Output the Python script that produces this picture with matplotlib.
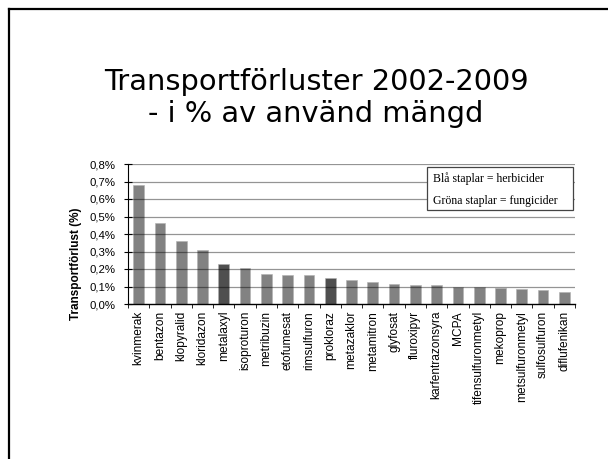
import matplotlib
matplotlib.use("Agg")
import matplotlib.pyplot as plt
from matplotlib.lines import Line2D
from matplotlib.patches import Rectangle
from matplotlib.ticker import FixedLocator, FuncFormatter

categories = ["kvinmerak", "bentazon", "klopyralid", "kloridazon", "metalaxyl",
              "isoproturon", "metribuzin", "etofumesat", "rimsulfuron", "prokloraz",
              "metazaklor", "metamitron", "glyfosat", "fluroxipyr", "karfentrazonsyra",
              "MCPA", "tifensulfuronmetyl", "mekoprop", "metsulfuronmetyl",
              "sulfosulfuron", "diflufenikan"]
values = [0.68, 0.465, 0.36, 0.31, 0.23, 0.205, 0.172, 0.165, 0.165, 0.15,
          0.135, 0.128, 0.115, 0.108, 0.108, 0.095, 0.095, 0.093, 0.085,
          0.078, 0.07]
fungicides = ["metalaxyl", "prokloraz"]
yticks = [0.0, 0.1, 0.2, 0.3, 0.4, 0.5, 0.6, 0.7, 0.8]
title_lines = ["Transportförluster 2002-2009", "- i % av använd mängd"]
ylabel = "Transportförlust (%)"
legend_lines = ["Blå staplar = herbicider", "Gröna staplar = fungicider"]

W, H = 608, 459
fig = plt.figure(figsize=(W / 100, H / 100), dpi=100)
fig.patch.set_facecolor("white")

# slide frame
fig.add_artist(Line2D([9 / W, 9 / W], [0, 1 - 9 / H], color="black", lw=1.6,
                      transform=fig.transFigure))
fig.add_artist(Line2D([9 / W, 1], [1 - 9 / H, 1 - 9 / H], color="black", lw=1.6,
                      transform=fig.transFigure))

# title
fig.text(316 / W, 1 - 90 / H, title_lines[0], ha="center", va="baseline",
         fontsize=20.8, family="DejaVu Sans", color="black")
fig.text(316 / W, 1 - 122 / H, title_lines[1], ha="center", va="baseline",
         fontsize=20.8, family="DejaVu Sans", color="black")

ax = fig.add_axes([128 / W, 1 - 304 / H, (575 - 128) / W, (304 - 164) / H])
x = list(range(len(categories)))
colors = ["#4f4f4f" if c in fungicides else "#828282" for c in categories]
ax.bar(x, values, width=0.5, color=colors, edgecolor="#b0b0b0", linewidth=0.4, zorder=2)

ax.set_xlim(-0.5, len(categories) - 0.5)
ax.set_ylim(0, 0.8)
ax.yaxis.set_major_locator(FixedLocator(yticks))
ax.yaxis.set_major_formatter(FuncFormatter(lambda v, p: f"{v:.1f}%".replace(".", ",")))
for v in yticks[1:]:
    ax.axhline(v, color="black", alpha=0.42, lw=0.9, zorder=3)

ax.set_xticks(x)
ax.set_xticklabels(categories, rotation=90, fontsize=8.6, family="Liberation Sans")
ax.tick_params(axis="x", length=0, pad=5)
ax.xaxis.set_minor_locator(FixedLocator([i - 0.5 for i in range(len(categories) + 1)]))
ax.tick_params(axis="x", which="minor", length=3, width=0.6, direction="out")
ax.tick_params(axis="y", direction="inout", length=6, width=0.8, labelsize=8.2, pad=6)
for lbl in ax.get_yticklabels():
    lbl.set_family("Liberation Sans")

for s in ["top", "right"]:
    ax.spines[s].set_visible(False)
ax.spines["left"].set_linewidth(0.8)
ax.spines["bottom"].set_linewidth(1.0)

fig.text(76 / W, 1 - 264 / H, ylabel, rotation=90, ha="center", va="center",
         fontsize=8.5, fontweight="bold", family="Liberation Sans")

# legend box
fig.add_artist(Rectangle((427 / W, 1 - 210 / H), (573 - 427) / W, (210 - 167) / H,
                         transform=fig.transFigure, facecolor="white",
                         edgecolor="#444444", lw=0.9, zorder=5))
fig.text(433 / W, 1 - 179 / H, legend_lines[0], ha="left", va="center",
         fontsize=8.5, family="Liberation Serif", zorder=6)
fig.text(433 / W, 1 - 201 / H, legend_lines[1], ha="left", va="center",
         fontsize=8.5, family="Liberation Serif", zorder=6)

fig.savefig("out.png", dpi=100, facecolor="white")
